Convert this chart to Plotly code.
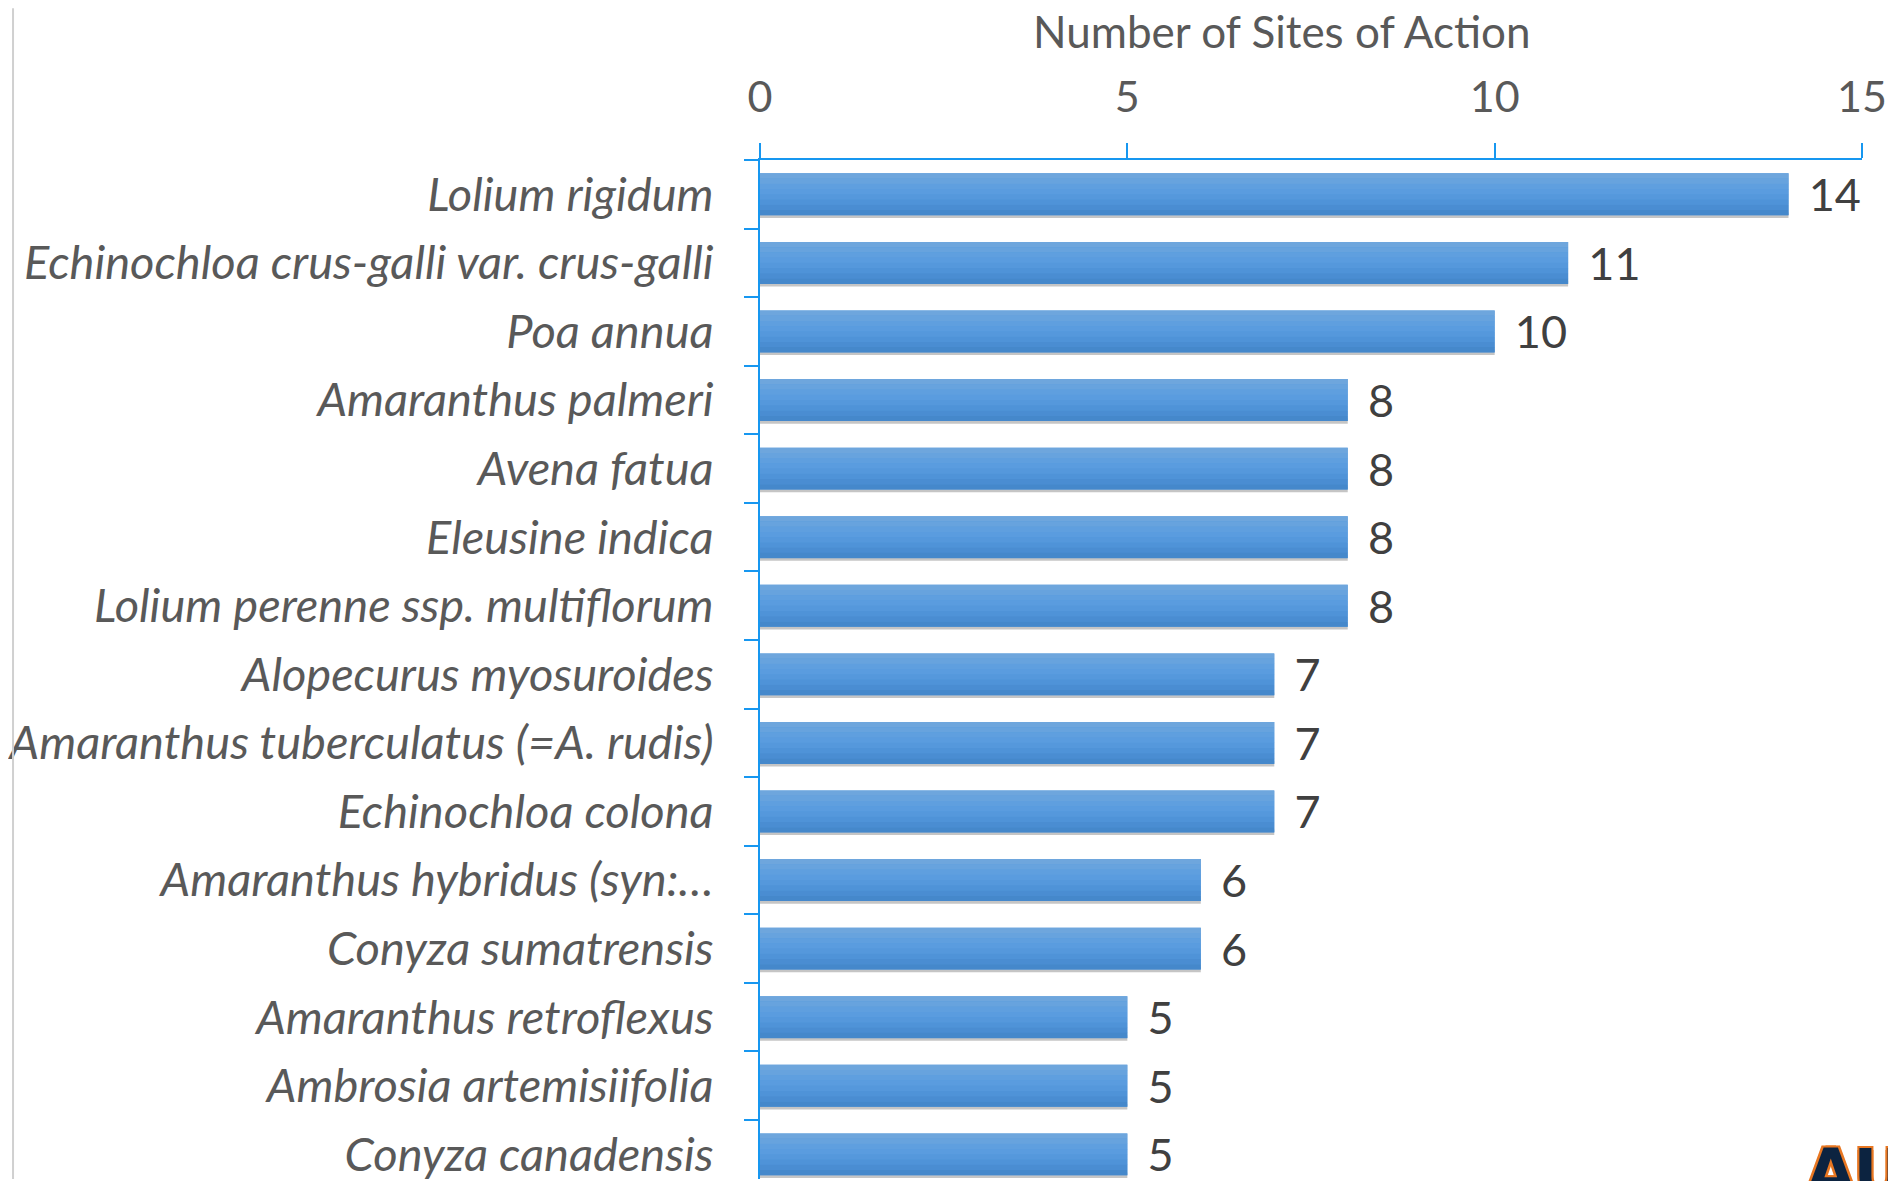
import plotly.graph_objects as go

species = [
    "Lolium rigidum",
    "Echinochloa crus-galli var. crus-galli",
    "Poa annua",
    "Amaranthus palmeri",
    "Avena fatua",
    "Eleusine indica",
    "Lolium perenne ssp. multiflorum",
    "Alopecurus myosuroides",
    "Amaranthus tuberculatus (=A. rudis)",
    "Echinochloa colona",
    "Amaranthus hybridus (syn:…",
    "Conyza sumatrensis",
    "Amaranthus retroflexus",
    "Ambrosia artemisiifolia",
    "Conyza canadensis",
]
sites = [14, 11, 10, 8, 8, 8, 8, 7, 7, 7, 6, 6, 5, 5, 5]

# top-to-bottom shading of the bars (Excel-style gradient)
band_colors = ["#6ea6dd", "#67a3de", "#5f9fdf", "#5a9cdf", "#5598dc", "#4f93d8", "#4a8dd2", "#4588cb"]

AXIS_BLUE = "#1797f0"
FONT = "Lato"
BAR_W = 0.61

# plot box in figure pixels
L, R, T = 749, 26, 152
W, H = 1880, 1173
PW, PH = W - L - R, H - T

fig = go.Figure()

# soft shadow under each bar
fig.add_trace(
    go.Bar(
        x=sites, y=species, orientation="h",
        marker=dict(color="rgba(90,90,90,0.35)", line=dict(width=0)),
        width=0.08, offset=BAR_W / 2 - 0.04,
        hoverinfo="skip",
    )
)

# main bar with its value label
fig.add_trace(
    go.Bar(
        x=sites,
        y=species,
        orientation="h",
        marker=dict(color="#5499dc", line=dict(width=0)),
        text=sites,
        texttemplate="\u00a0\u2009%{text}",
        textposition="outside",
        constraintext="none",
        textfont=dict(family=FONT, size=45, color="#404040"),
        cliponaxis=False,
        width=BAR_W,
    )
)

band_w = BAR_W / len(band_colors)
for i, c in enumerate(band_colors):
    fig.add_trace(
        go.Bar(
            x=sites, y=species, orientation="h",
            marker=dict(color=c, line=dict(width=0)),
            width=band_w * 1.02, offset=-BAR_W / 2 + i * band_w,
            hoverinfo="skip",
        )
    )

fig.update_layout(
    width=W,
    height=H,
    margin=dict(l=L, r=R, t=T, b=0),
    paper_bgcolor="white",
    plot_bgcolor="white",
    showlegend=False,
    barmode="overlay",
    font=dict(family=FONT, color="#595959"),
)

fig.update_xaxes(
    side="top",
    range=[0, 15],
    tickvals=[0, 5, 10, 15],
    ticks="outside",
    ticklen=15,
    tickwidth=2,
    tickcolor=AXIS_BLUE,
    showline=True,
    linecolor=AXIS_BLUE,
    linewidth=2,
    showgrid=False,
    zeroline=False,
    tickfont=dict(family=FONT, size=43, color="#595959"),
    ticklabelstandoff=14,
)

fig.update_yaxes(
    type="category",
    range=[14.36, -0.5],
    tickson="boundaries",
    ticks="outside",
    ticklen=14,
    tickwidth=2,
    tickcolor=AXIS_BLUE,
    showline=True,
    linecolor=AXIS_BLUE,
    linewidth=2,
    showgrid=False,
    tickfont=dict(family=FONT, size=47, color="#595959", style="italic"),
    ticklabelstandoff=35,
)

# axis title above the tick labels
fig.add_annotation(
    text="Number of Sites of Action", xref="paper", yref="paper",
    x=(1272 - L) / PW, y=(H - 23) / PH, xanchor="center", yanchor="middle",
    showarrow=False, font=dict(family=FONT, size=44, color="#595959"),
)

# thin slide border at the left edge
fig.add_shape(
    type="line", xref="paper", yref="paper",
    x0=-L / PW, x1=-L / PW, y0=0, y1=1 + T / PH,
    line=dict(color="#d0d0d0", width=2),
)

# corner of the logo, cut off at the bottom right
fig.add_annotation(
    text="<b>AU</b>", xref="paper", yref="paper",
    x=(1796 - L) / PW, y=(H - 1128) / PH,
    xanchor="left", yanchor="top", showarrow=False,
    font=dict(family="DejaVu Sans", size=64, color="#0c2340",
              shadow="2px 2px 0 #e87722, -2px -2px 0 #e87722, 2px -2px 0 #e87722, -2px 2px 0 #e87722"),
)

fig.write_html("out.html")
